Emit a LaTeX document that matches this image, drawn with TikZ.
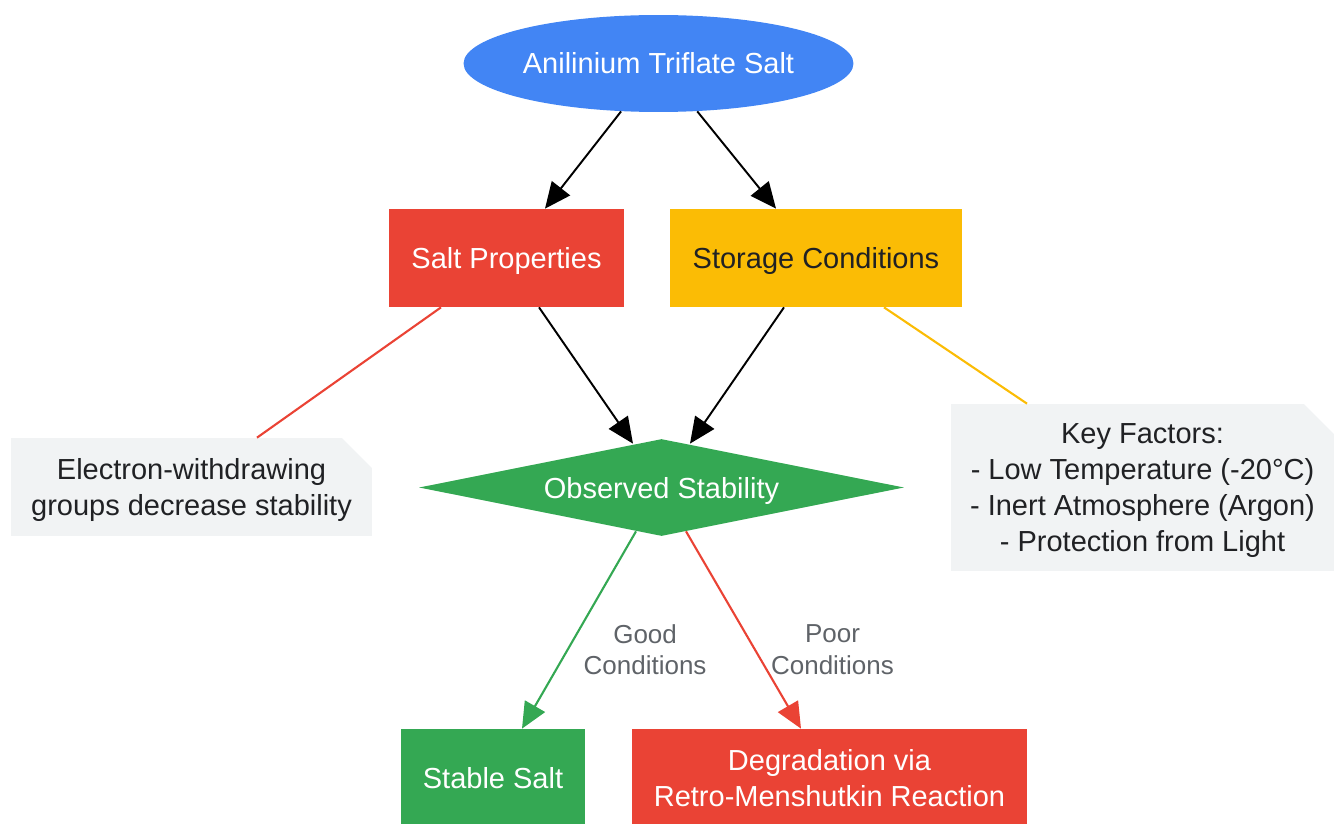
\documentclass[tikz,border=0pt]{standalone}
\usepackage{fontspec}
\setmainfont{Liberation Sans}
\usetikzlibrary{shapes.geometric,shapes.misc,arrows.meta}

\definecolor{gblue}{HTML}{4285F4}
\definecolor{gred}{HTML}{EA4335}
\definecolor{gyellow}{HTML}{FBBC05}
\definecolor{ggreen}{HTML}{34A853}
\definecolor{notegray}{HTML}{F1F3F4}
\definecolor{darktext}{HTML}{202124}
\definecolor{labelgray}{HTML}{5F6368}

\begin{document}
\begin{tikzpicture}[x=0.02cm, y=-0.02cm]
        \tikzstyle{box} = [rectangle, inner sep=0pt, minimum height=1.96cm, align=center, text depth=0pt,
                           font=\fontsize{16.5}{20.5}\selectfont]
        \tikzstyle{note} = [chamfered rectangle, chamfered rectangle corners=north east,
                            chamfered rectangle xsep=0.3cm, chamfered rectangle ysep=0.3cm,
                            fill=notegray, text=darktext, inner sep=0pt, align=center, text depth=0pt,
                            font=\fontsize{16.5}{20.5}\selectfont]
        \tikzstyle{arr} = [line width=1.1pt, -{Triangle[length=0.52cm, width=0.46cm]}]
        \tikzstyle{lbl} = [text=labelgray, align=center, inner sep=0pt,
                           font=\fontsize{14.8}{17.8}\selectfont]

		\useasboundingbox (0,0) rectangle (1334,824);

		\node[ellipse, fill=gblue, text=white, inner sep=0pt, minimum width=7.8cm, minimum height=1.94cm,
		      font=\fontsize{16.5}{20.5}\selectfont] (salt) at (658.5,63.5) {Anilinium Triflate Salt};
		\node[box, fill=gred, text=white, minimum width=4.7cm] (props) at (506.5,258) {Salt Properties};
		\node[box, fill=gyellow, text=darktext, minimum width=5.84cm] (storage) at (816,258) {Storage Conditions};
		\node[diamond, aspect=5, fill=ggreen, text=white, inner sep=0pt, minimum width=9.7cm, minimum height=1.94cm,
		      text depth=0pt, font=\fontsize{16.5}{20.5}\selectfont] (obs) at (661.5,487.5) {Observed Stability};
		\node[box, fill=ggreen, text=white, minimum width=3.68cm] (stable) at (493,778) {Stable Salt};
		\node[box, fill=gred, text=white, minimum width=7.9cm] (degr) at (829.5,778) {Degradation via\\Retro-Menshutkin Reaction};
		\node[note, minimum width=7.22cm, minimum height=1.96cm] (ewg) at (191.5,487) {Electron-withdrawing\\groups decrease stability};
		\node[note, minimum width=7.66cm, minimum height=3.34cm] (factors) at (1142.5,487.5)
		      {Key Factors:\\- Low Temperature (-20°C)\\- Inert Atmosphere (Argon)\\- Protection from Light};

		\draw[arr] (salt.232) -- ([xshift=0.77cm]props.north);
		\draw[arr] (salt.-51) -- ([xshift=-0.8cm]storage.north);
		\draw[arr] ([xshift=0.65cm]props.south) -- ([xshift=-0.57cm, yshift=-0.1cm]obs.north);
		\draw[arr] ([xshift=-0.64cm]storage.south) -- ([xshift=0.57cm, yshift=-0.1cm]obs.north);
		\draw[gred, line width=1.2pt] ([xshift=-1.31cm]props.south) -- ([xshift=1.31cm]ewg.north);
		\draw[gyellow, line width=1.2pt] ([xshift=1.36cm]storage.south) -- ([xshift=-2.31cm]factors.north);
		\draw[arr, ggreen, line width=1.2pt] ([xshift=-0.51cm, yshift=0.1cm]obs.south) -- ([xshift=0.58cm]stable.north)
		      node[lbl, pos=0.6, anchor=west, xshift=0.3cm] {Good\\Conditions};
		\draw[arr, gred, line width=1.2pt] ([xshift=0.49cm, yshift=0.1cm]obs.south) -- ([xshift=-0.57cm]degr.north)
		      node[lbl, pos=0.6, anchor=west, xshift=0.3cm] {Poor\\Conditions};

    \end{tikzpicture}
\end{document}
